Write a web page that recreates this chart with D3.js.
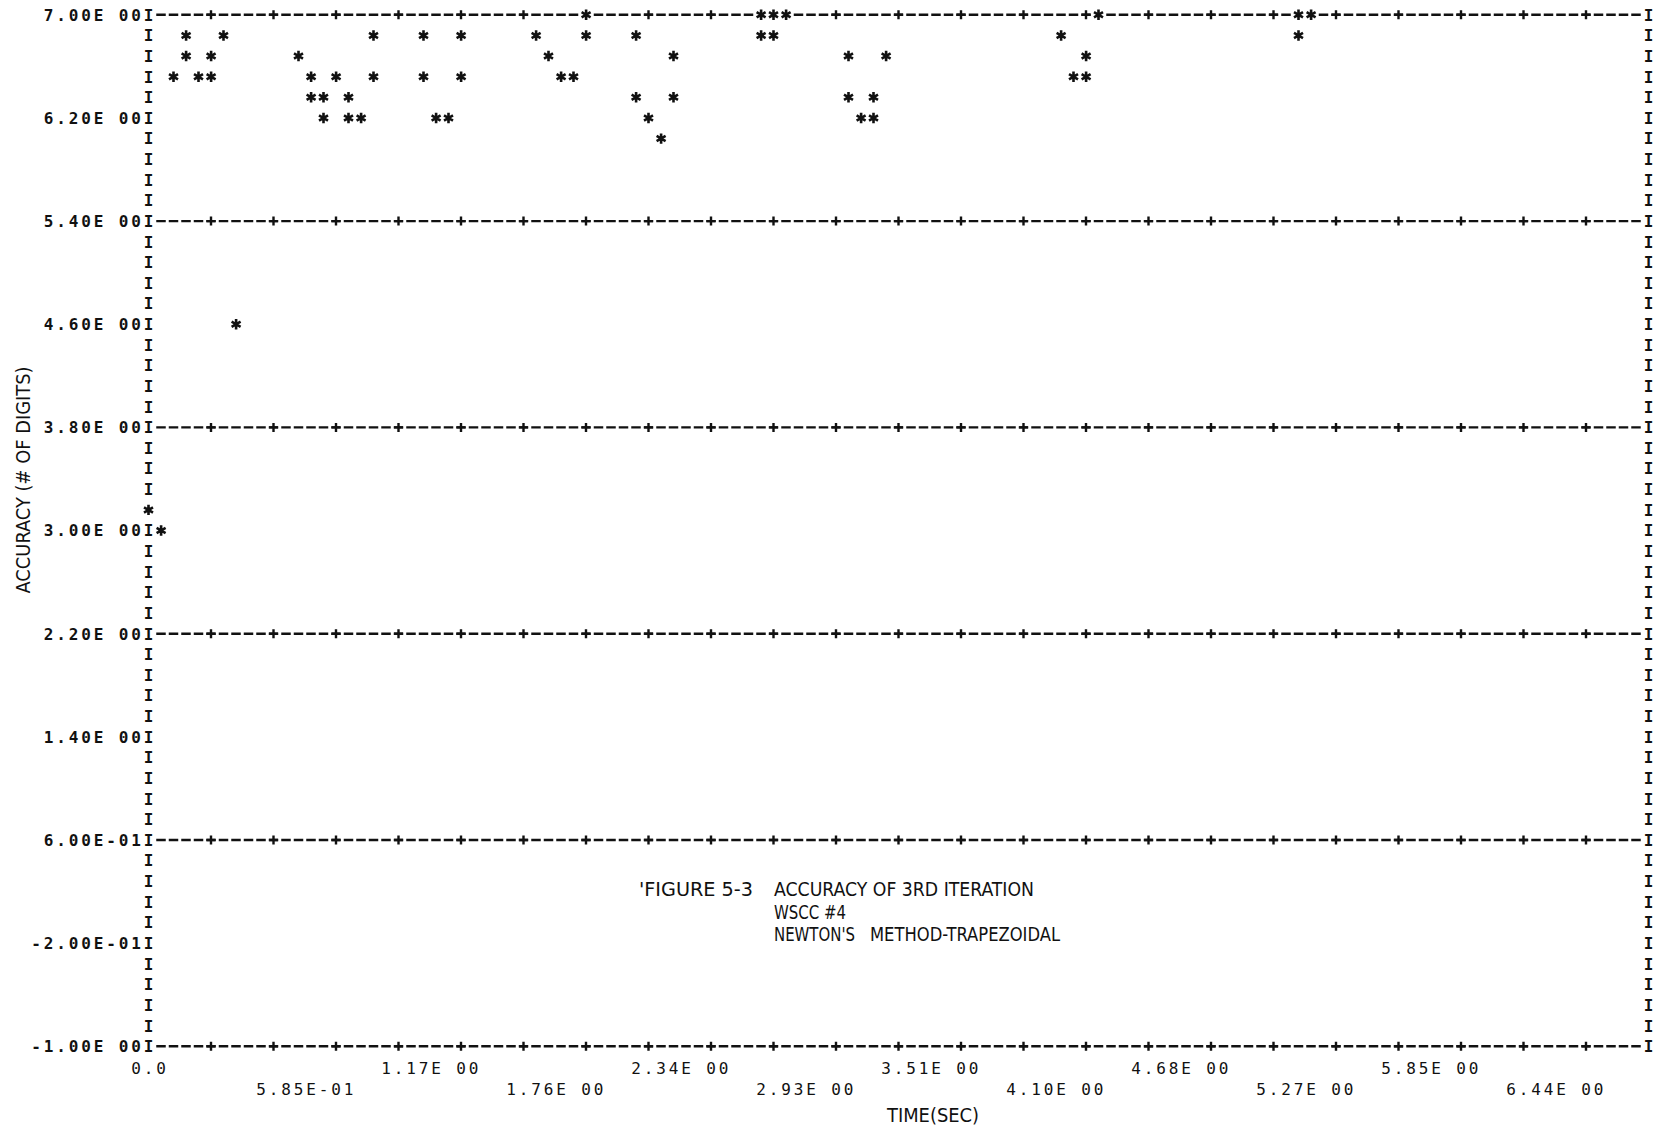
<!DOCTYPE html>
<html>
<head>
<meta charset="utf-8">
<script src="https://cdn.jsdelivr.net/npm/d3@7"></script>
<style>
  html, body { margin: 0; padding: 0; background: #fff; }
  svg { display: block; }
</style>
</head>
<body>
<svg id="chart" width="1660" height="1133"></svg>
<script>
// Accuracy (number of correct digits) of the 3rd Newton iteration vs. simulation time
const timeSec = [
  0.000, 0.059, 0.117, 0.176, 0.176, 0.234, 0.293, 0.293, 0.351, 0.410,
  0.702, 0.761, 0.761, 0.819, 0.819, 0.878, 0.936, 0.936, 0.995, 1.053,
  1.053, 1.287, 1.287, 1.346, 1.404, 1.463, 1.463, 1.814, 1.872, 1.931,
  1.989, 2.048, 2.048, 2.282, 2.282, 2.340, 2.399, 2.457, 2.457, 2.867,
  2.867, 2.925, 2.925, 2.984, 3.276, 3.276, 3.335, 3.393, 3.393, 3.452,
  4.271, 4.329, 4.388, 4.388, 4.446, 5.382, 5.382, 5.441
];
const accuracy = [
  3.16, 3.00, 6.52, 6.84, 6.68, 6.52, 6.68, 6.52, 6.84, 4.60,
  6.68, 6.52, 6.36, 6.36, 6.20, 6.52, 6.36, 6.20, 6.20, 6.84,
  6.52, 6.84, 6.52, 6.20, 6.20, 6.84, 6.52, 6.84, 6.68, 6.52,
  6.52, 7.00, 6.84, 6.84, 6.36, 6.20, 6.04, 6.68, 6.36, 7.00,
  6.84, 7.00, 6.84, 7.00, 6.68, 6.36, 6.20, 6.36, 6.20, 6.68,
  6.84, 6.52, 6.68, 6.52, 7.00, 7.00, 6.84, 7.00
];

const yTickValues = [7.0, 6.2, 5.4, 4.6, 3.8, 3.0, 2.2, 1.4, 0.6, -0.2, -1.0];
const yTickLabels = ["7.00E 00", "6.20E 00", "5.40E 00", "4.60E 00", "3.80E 00", "3.00E 00",
                     "2.20E 00", "1.40E 00", "6.00E-01", "-2.00E-01", "-1.00E 00"];
const yGridValues = [7.0, 5.4, 3.8, 2.2, 0.6, -1.0];

const xTickValues = [0, 0.585, 1.17, 1.755, 2.34, 2.925, 3.51, 4.095, 4.68, 5.265, 5.85, 6.435];
const xTickLabels = ["0.0", "5.85E-01", "1.17E 00", "1.76E 00", "2.34E 00", "2.93E 00",
                     "3.51E 00", "4.10E 00", "4.68E 00", "5.27E 00", "5.85E 00", "6.44E 00"];

const xTitle = "TIME(SEC)";
const yTitle = "ACCURACY (# OF DIGITS)";
const captionLines = [
  { text: "'FIGURE 5-3", x0: 639, x1: 753, base: 896 },
  { text: "ACCURACY OF 3RD ITERATION", x0: 774, x1: 1034, base: 896 },
  { text: "WSCC #4", x0: 774, x1: 846, base: 918.5 },
  { text: "NEWTON'S", x0: 774, x1: 855, base: 941 },
  { text: "METHOD-TRAPEZOIDAL", x0: 870, x1: 1060, base: 941 }
];

// Print-grid geometry: 120 character columns by 50 print lines
const COL0 = 148.5, CW = 12.5, NCOLS = 120;
const ROW0 = 14.8, RH = 20.63, NROWS = 50;
const X_STEP = 0.0585, Y_STEP = 0.16;
const MONO = "'DejaVu Sans Mono', 'Liberation Mono', monospace";
const NARROW = "'DejaVu Sans Condensed', 'Liberation Sans Narrow', 'Roboto Condensed', 'DejaVu Sans', sans-serif";
const FS = 16, CAP = 0.729 * FS;

const x = d3.scaleLinear().domain([0, NCOLS * X_STEP]).range([COL0, COL0 + NCOLS * CW]);
const y = d3.scaleLinear().domain([-1, 7]).range([ROW0 + NROWS * RH, ROW0]);

const svg = d3.select("#chart");
svg.append("rect").attr("width", 1660).attr("height", 1133).attr("fill", "#fff");

// draws a string one character per print column, centred in each cell
function printChars(g, str, xStart, yc, weight) {
  const chars = str.split("").map((c, i) => ({ c, i })).filter(d => d.c !== " ");
  g.selectAll(null).data(chars).enter().append("text")
    .attr("x", d => xStart + d.i * CW)
    .attr("y", yc + CAP / 2)
    .attr("text-anchor", "middle")
    .attr("font-family", MONO)
    .attr("font-size", FS)
    .attr("font-weight", weight || "bold")
    .attr("fill", "#111")
    .text(d => d.c);
}

// dashed grid lines every 0.8 digits
const grid = svg.append("g");
grid.selectAll("line").data(yGridValues).enter().append("line")
  .attr("x1", x(X_STEP) - 4.75)
  .attr("x2", x((NCOLS - 1) * X_STEP) + 4.75)
  .attr("y1", d => y(d)).attr("y2", d => y(d))
  .attr("stroke", "#111").attr("stroke-width", 2.4)
  .attr("stroke-dasharray", "9.5 3");

// '+' markers every five columns on each grid line
const plusX = d3.range(1, NCOLS / 5).map(k => k * 5 * X_STEP);
const plusPts = [];
yGridValues.forEach(v => plusX.forEach(t => plusPts.push([t, v])));
grid.selectAll("path").data(plusPts).enter().append("path")
  .attr("d", d => {
    const px = x(d[0]), py = y(d[1]);
    return `M${px - 4.5},${py}H${px + 4.5}M${px},${py - 4.5}V${py + 4.5}`;
  })
  .attr("stroke", "#111").attr("stroke-width", 2.4).attr("fill", "none");

// vertical 'I' borders on every print line
const rowValues = d3.range(NROWS + 1).map(i => 7 - i * Y_STEP);
const borders = svg.append("g");
[0, NCOLS * X_STEP].forEach(t => {
  rowValues.forEach(v => printChars(borders, "I", x(t), y(v)));
});

// y-axis labels, right-aligned against the left border
const yLab = svg.append("g");
yTickValues.forEach((v, i) => {
  const s = yTickLabels[i];
  printChars(yLab, s, x(0) - CW * s.length, y(v));
});

// x-axis labels on two alternating lines below the frame
const xLab = svg.append("g");
xTickValues.forEach((v, i) => {
  const line = i % 2 === 0 ? 1 : 2;
  printChars(xLab, xTickLabels[i], x(v) - CW, y(-1) + line * RH + 1.5, "normal");
});

// data points as printer asterisks
const starR = 5.2;
const u = starR * Math.sqrt(3) / 2, h = starR / 2;
const starD = `M0,${-starR}V${starR}M${-u},${-h}L${u},${h}M${-u},${h}L${u},${-h}`;
const pts = timeSec.map((t, i) => ({ t, a: accuracy[i] }));
const marks = svg.append("g");
marks.selectAll("rect").data(pts).enter().append("rect")
  .attr("x", d => x(d.t) - CW / 2).attr("y", d => y(d.a) - 9)
  .attr("width", CW).attr("height", 18).attr("fill", "#fff");
marks.selectAll("path").data(pts).enter().append("path")
  .attr("transform", d => `translate(${x(d.t)},${y(d.a)})`)
  .attr("d", starD)
  .attr("stroke", "#111").attr("stroke-width", 2.6).attr("fill", "none");

// axis titles
svg.append("text")
  .attr("x", 933).attr("y", 1122)
  .attr("text-anchor", "middle")
  .attr("font-family", NARROW).attr("font-size", 19)
  .attr("textLength", 92).attr("lengthAdjust", "spacingAndGlyphs")
  .attr("fill", "#111").text(xTitle);

svg.append("text")
  .attr("transform", `translate(${23 + 6.8},${480}) rotate(-90)`)
  .attr("text-anchor", "middle")
  .attr("font-family", NARROW).attr("font-size", 19)
  .attr("textLength", 227).attr("lengthAdjust", "spacingAndGlyphs")
  .attr("fill", "#111").text(yTitle);

// figure caption
svg.append("g").selectAll("text").data(captionLines).enter().append("text")
  .attr("x", d => d.x0).attr("y", d => d.base)
  .attr("font-family", NARROW).attr("font-size", 19)
  .attr("textLength", d => d.x1 - d.x0).attr("lengthAdjust", "spacingAndGlyphs")
  .attr("fill", "#111").text(d => d.text);
</script>
</body>
</html>
